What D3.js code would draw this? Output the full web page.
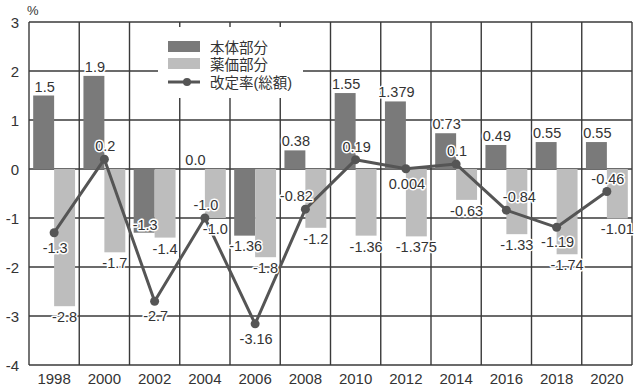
<!DOCTYPE html>
<html><head><meta charset="utf-8">
<script src="https://cdn.jsdelivr.net/npm/d3@7"></script>
<style>
body{margin:0;background:#fff;}
text{font-family:"Liberation Sans","Noto Sans CJK JP",Arial,sans-serif;fill:#333;}
.halo{paint-order:stroke;stroke:#fff;stroke-width:3px;stroke-linejoin:round;}
</style></head>
<body><svg id="c" width="640" height="387"></svg>
<script>
const years = ["1998","2000","2002","2004","2006","2008","2010","2012","2014","2016","2018","2020"];
const hontai = [1.5, 1.9, -1.3, 0.0, -1.36, 0.38, 1.55, 1.379, 0.73, 0.49, 0.55, 0.55];
const hontaiLabels = ["1.5","1.9","-1.3","0.0","-1.36","0.38","1.55","1.379","0.73","0.49","0.55","0.55"];
const yakka = [-2.8, -1.7, -1.4, -1.0, -1.8, -1.2, -1.36, -1.375, -0.63, -1.33, -1.74, -1.01];
const yakkaLabels = ["-2.8","-1.7","-1.4","-1.0","-1.8","-1.2","-1.36","-1.375","-0.63","-1.33","-1.74","-1.01"];
const sogaku = [-1.3, 0.2, -2.7, -1.0, -3.16, -0.82, 0.19, 0.004, 0.1, -0.84, -1.19, -0.46];
const sogakuLabels = ["-1.3","0.2","-2.7","-1.0","-3.16","-0.82","0.19","0.004","0.1","-0.84","-1.19","-0.46"];
const sogakuLabelSide = ["below","above","below","above","below","aboveLeft","above","below","above","aboveRight","below","above"];
const hontaiNegSide = {"2002":"inside","2006":"below"};
const yTicks = [-4,-3,-2,-1,0,1,2,3];
const seriesNames = ["本体部分","薬価部分","改定率(総額)"];

const svg = d3.select("#c");
const x = d3.scaleBand().domain(years).range([29, 632]).padding(0);
const inner = d3.scaleBand().domain(["h","y"]).range([0, x.bandwidth()]).paddingInner(0).paddingOuter(0.2);
const y = d3.scaleLinear().domain([-4, 3]).range([365, 22]);
const gridColor = "#3a3a3a";

// horizontal grid
svg.append("g").selectAll("line").data(yTicks).join("line")
  .attr("x1", 29).attr("x2", 632)
  .attr("y1", d => y(d)).attr("y2", d => y(d))
  .attr("stroke", gridColor).attr("stroke-width", 1.4);
// vertical grid at band boundaries
const bounds = years.map(d => x(d)).concat([x(years[years.length-1]) + x.bandwidth()]);
svg.append("g").selectAll("line").data(bounds).join("line")
  .attr("x1", d => d).attr("x2", d => d)
  .attr("y1", y(3)).attr("y2", y(-4))
  .attr("stroke", gridColor).attr("stroke-width", 1.4);

// bars
const barG = svg.append("g");
barG.selectAll("rect.h").data(years).join("rect").attr("class","h")
  .attr("x", (d) => x(d) + inner("h"))
  .attr("width", inner.bandwidth())
  .attr("y", (d,i) => y(Math.max(0, hontai[i])))
  .attr("height", (d,i) => Math.abs(y(hontai[i]) - y(0)))
  .attr("fill", "#7a7a7a");
barG.selectAll("rect.y").data(years).join("rect").attr("class","y")
  .attr("x", (d) => x(d) + inner("y"))
  .attr("width", inner.bandwidth())
  .attr("y", (d,i) => y(Math.max(0, yakka[i])))
  .attr("height", (d,i) => Math.abs(y(yakka[i]) - y(0)))
  .attr("fill", "#bdbdbd");

// line
const cx = d => x(d) + x.bandwidth()/2;
const line = d3.line().x((d,i) => cx(years[i])).y(d => y(d));
svg.append("path").datum(sogaku).attr("d", line)
  .attr("fill","none").attr("stroke","#555").attr("stroke-width",3).attr("stroke-linejoin","round");
svg.append("g").selectAll("circle").data(sogaku).join("circle")
  .attr("cx", (d,i) => cx(years[i])).attr("cy", d => y(d)).attr("r", 4.5).attr("fill","#555");

// labels
const lab = svg.append("g").attr("font-size", 14.5);
lab.selectAll("text.h").data(years).join("text").attr("class","h halo")
  .attr("text-anchor","middle")
  .attr("x", d => x(d) + inner("h") + inner.bandwidth()/2 + 1)
  .attr("y", (d,i) => {
    const v = hontai[i];
    if (v >= 0) return y(v) - 4;
    const side = hontaiNegSide[d];
    if (side === "inside") return y(v) - 3;
    return y(v) + 15;
  })
  .text((d,i) => hontaiLabels[i]);
lab.selectAll("text.y").data(years).join("text").attr("class","y halo")
  .attr("text-anchor","middle")
  .attr("x", d => x(d) + inner("y") + inner.bandwidth()/2)
  .attr("y", (d,i) => y(yakka[i]) + 16)
  .text((d,i) => yakkaLabels[i]);
lab.selectAll("text.s").data(years).join("text").attr("class","s halo")
  .attr("text-anchor","middle")
  .attr("x", (d,i) => {
    const s = sogakuLabelSide[i];
    return cx(d) + 1 + (s === "aboveLeft" ? -10 : s === "aboveRight" ? 12 : 0);
  })
  .attr("y", (d,i) => sogakuLabelSide[i].startsWith("above") ? y(sogaku[i]) - 8 : y(sogaku[i]) + 20)
  .text((d,i) => sogakuLabels[i]);

// y axis labels
svg.append("g").selectAll("text").data(yTicks).join("text")
  .attr("x", 19).attr("y", d => y(d) + 5.5).attr("text-anchor","end")
  .attr("font-size", 15).text(d => d);
svg.append("text").attr("x", 27).attr("y", 15).attr("font-size", 13).text("%");
// x axis labels
svg.append("g").selectAll("text").data(years).join("text")
  .attr("x", d => cx(d)).attr("y", 384).attr("text-anchor","middle")
  .attr("font-size", 15).text(d => d);

// legend
const lg = svg.append("g");
lg.append("rect").attr("x",158).attr("y",27).attr("width",145).attr("height",71).attr("fill","#fff");
const rows = [47, 64, 82];
lg.append("rect").attr("x",168).attr("y",rows[0]-6).attr("width",32).attr("height",11).attr("fill","#7a7a7a");
lg.append("rect").attr("x",168).attr("y",rows[1]-6).attr("width",32).attr("height",11).attr("fill","#bdbdbd");
lg.append("line").attr("x1",168).attr("x2",200).attr("y1",rows[2]).attr("y2",rows[2]).attr("stroke","#555").attr("stroke-width",3);
lg.append("circle").attr("cx",187).attr("cy",rows[2]).attr("r",4).attr("fill","#555");
lg.selectAll("text").data(seriesNames).join("text")
  .attr("x",210).attr("y",(d,i)=>rows[i]+5.5).attr("font-size",14.5).text(d=>d);
</script></body></html>
